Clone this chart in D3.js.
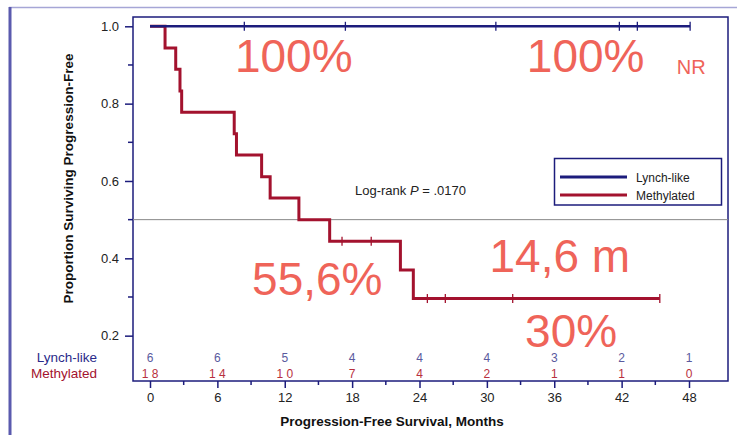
<!DOCTYPE html>
<html>
<head>
<meta charset="utf-8">
<script src="https://cdn.jsdelivr.net/npm/d3@7"></script>
<style>
  html, body { margin: 0; padding: 0; background: #fff; }
  svg { display: block; font-family: "Liberation Sans", Arial, sans-serif; }
</style>
</head>
<body>
<svg id="chart" width="737" height="435"></svg>
<script>
// Kaplan-Meier progression-free survival, two groups
const groups = ["Lynch-like", "Methylated"];

// Methylated: step curve [month, survival] and censor times
const methylatedSteps = [
  [0, 1.0], [1.34, 0.944], [2.29, 0.889], [2.67, 0.833], [2.82, 0.778],
  [7.5, 0.722], [7.7, 0.667], [9.94, 0.611], [10.7, 0.556], [13.26, 0.5],
  [16.0, 0.444], [22.3, 0.370], [23.45, 0.296]
];
const methylatedEnd = 45.4;
const methylatedCensors = [17.1, 19.7, 24.7, 26.3, 32.3, 45.4];

// Lynch-like: no events
const lynchSteps = [[0, 1.0]];
const lynchEnd = 48.1;
const lynchCensors = [8.4, 17.4, 30.8, 41.8, 43.4, 48.1];

// Numbers at risk
const riskMonths = [0, 6, 12, 18, 24, 30, 36, 42, 48];
const lynchAtRisk = [6, 6, 5, 4, 4, 4, 3, 2, 1];
const methylatedAtRisk = [18, 14, 10, 7, 4, 2, 1, 1, 0];

const yMajorTicks = [0.2, 0.4, 0.6, 0.8, 1.0];
const yMinorTicks = [0.3, 0.5, 0.7, 0.9];
const xMajorTicks = [0, 6, 12, 18, 24, 30, 36, 42, 48];
const xMinorTicks = [3, 9, 15, 21, 27, 33, 39, 45];

// Highlighted figures
const callouts = [
  { text: "100%", month: 12.8, value: 0.882, size: 46 },
  { text: "100%", month: 38.8, value: 0.882, size: 46 },
  { text: "NR", month: 48.2, value: 0.877, size: 20 },
  { text: "55,6%", month: 14.9, value: 0.305, size: 46 },
  { text: "14,6 m", month: 36.5, value: 0.365, size: 46 },
  { text: "30%", month: 37.5, value: 0.171, size: 46 }
];

const navy = "#1c1c7c";
const red = "#a3122e";
const salmon = "#ef6459";

const svg = d3.select("#chart");

const x = d3.scaleLinear().domain([0, 48]).range([150, 689]);
const y = d3.scaleLinear().domain([0, 1]).range([413, 26.3]);

const plot = { left: 133, right: 728, top: 17, bottom: 381 };

// Outer slide frame
svg.append("line").attr("x1", 9).attr("x2", 737).attr("y1", 7.5).attr("y2", 7.5)
  .attr("stroke", "#a6a6d6").attr("stroke-width", 1.5);
svg.append("line").attr("x1", 10).attr("x2", 10).attr("y1", 7).attr("y2", 435)
  .attr("stroke", "#5a5aae").attr("stroke-width", 3);

// Plot frame
svg.append("rect")
  .attr("x", plot.left).attr("y", plot.top)
  .attr("width", plot.right - plot.left).attr("height", plot.bottom - plot.top)
  .attr("fill", "none").attr("stroke", navy).attr("stroke-width", 1.5);

// Median reference line
svg.append("line")
  .attr("x1", plot.left).attr("x2", plot.right)
  .attr("y1", y(0.5)).attr("y2", y(0.5))
  .attr("stroke", "#888").attr("stroke-width", 1);

// Y axis
const yAxis = d3.axisLeft(y).tickValues(yMajorTicks).tickFormat(d3.format(".1f")).tickSize(8).tickPadding(6);
const gy = svg.append("g").attr("transform", `translate(${plot.left},0)`).call(yAxis);
gy.select(".domain").remove();
gy.selectAll(".tick line").attr("stroke", navy).attr("stroke-width", 1.5);
gy.selectAll(".tick text").attr("font-size", 13).attr("fill", "#222")
  .attr("font-family", "Liberation Sans, Arial, sans-serif");
svg.append("g").selectAll("line").data(yMinorTicks).join("line")
  .attr("x1", plot.left - 5).attr("x2", plot.left)
  .attr("y1", d => y(d)).attr("y2", d => y(d))
  .attr("stroke", navy).attr("stroke-width", 1.5);

// X axis
const xAxis = d3.axisBottom(x).tickValues(xMajorTicks).tickFormat(d3.format("d")).tickSize(7).tickPadding(5);
const gx = svg.append("g").attr("transform", `translate(0,${plot.bottom})`).call(xAxis);
gx.select(".domain").remove();
gx.selectAll(".tick line").attr("stroke", navy).attr("stroke-width", 1.5);
gx.selectAll(".tick text").attr("font-size", 13).attr("fill", "#222")
  .attr("font-family", "Liberation Sans, Arial, sans-serif");
svg.append("g").selectAll("line").data(xMinorTicks).join("line")
  .attr("x1", d => x(d)).attr("x2", d => x(d))
  .attr("y1", plot.bottom).attr("y2", plot.bottom + 4)
  .attr("stroke", navy).attr("stroke-width", 1.5);

// Axis titles
svg.append("text")
  .attr("x", 392).attr("y", 426)
  .attr("text-anchor", "middle").attr("font-size", 13.5).attr("font-weight", "bold").attr("fill", "#111")
  .text("Progression-Free Survival, Months");
svg.append("text")
  .attr("transform", "translate(72.5,178.5) rotate(-90)")
  .attr("text-anchor", "middle").attr("font-size", 13.5).attr("font-weight", "bold").attr("fill", "#111")
  .text("Proportion Surviving Progression-Free");

// Survival curves
function stepPath(steps, end) {
  const pts = steps.map(([t, s]) => [x(t), y(s)]);
  pts.push([x(end), y(steps[steps.length - 1][1])]);
  return d3.line().curve(d3.curveStepAfter)(pts);
}
function survivalAt(steps, t) {
  let s = 1;
  for (const [tt, ss] of steps) if (tt <= t) s = ss;
  return s;
}
function drawCurve(steps, end, censors, color, width) {
  const g = svg.append("g");
  g.append("path").attr("d", stepPath(steps, end))
    .attr("fill", "none").attr("stroke", color).attr("stroke-width", width)
    .attr("stroke-linejoin", "miter");
  g.selectAll("line").data(censors).join("line")
    .attr("x1", d => x(d)).attr("x2", d => x(d))
    .attr("y1", d => y(survivalAt(steps, d)) - 4.5)
    .attr("y2", d => y(survivalAt(steps, d)) + 4.5)
    .attr("stroke", color).attr("stroke-width", 1.3);
}
drawCurve(methylatedSteps, methylatedEnd, methylatedCensors, red, 3);
drawCurve(lynchSteps, lynchEnd, lynchCensors, navy, 2.5);

// Legend
svg.append("rect").attr("x", 554.5).attr("y", 158.5).attr("width", 167).attr("height", 46.5)
  .attr("fill", "#fff").attr("stroke", navy).attr("stroke-width", 1.5);
const legendRows = [
  { name: groups[0], color: navy, yy: 177 },
  { name: groups[1], color: red, yy: 195 }
];
const lg = svg.append("g").selectAll("g").data(legendRows).join("g");
lg.append("line").attr("x1", 560).attr("x2", 627)
  .attr("y1", d => d.yy).attr("y2", d => d.yy)
  .attr("stroke", d => d.color).attr("stroke-width", 3);
lg.append("text").attr("x", 636).attr("y", d => d.yy + 4.5)
  .attr("font-size", 12).attr("fill", "#222").text(d => d.name);

// Log-rank annotation
const lr = svg.append("text").attr("x", 355).attr("y", 194.5).attr("font-size", 13).attr("fill", "#222");
lr.append("tspan").text("Log-rank ");
lr.append("tspan").attr("font-style", "italic").text("P");
lr.append("tspan").text(" = .0170");

// Numbers at risk
svg.append("text").attr("x", 97).attr("y", 362).attr("text-anchor", "end")
  .attr("font-size", 13.5).attr("fill", "#2a2a8a").text(groups[0]);
svg.append("text").attr("x", 97).attr("y", 378).attr("text-anchor", "end")
  .attr("font-size", 13.5).attr("fill", "#a3122e").text(groups[1]);
svg.append("g").selectAll("text").data(riskMonths).join("text")
  .attr("x", d => x(d)).attr("y", 361.5).attr("text-anchor", "middle")
  .attr("font-size", 12).attr("fill", "#5a5a9e")
  .text((d, i) => lynchAtRisk[i]);
svg.append("g").selectAll("text").data(riskMonths).join("text")
  .attr("x", d => x(d)).attr("y", 377.5).attr("text-anchor", "middle")
  .attr("font-size", 12).attr("fill", "#b8303e")
  .text((d, i) => String(methylatedAtRisk[i]).split("").join(" "));

// Callout figures
svg.append("g").selectAll("text").data(callouts).join("text")
  .attr("x", d => x(d.month)).attr("y", d => y(d.value))
  .attr("text-anchor", "middle")
  .attr("font-size", d => d.size).attr("fill", salmon)
  .text(d => d.text);
</script>
</body>
</html>
